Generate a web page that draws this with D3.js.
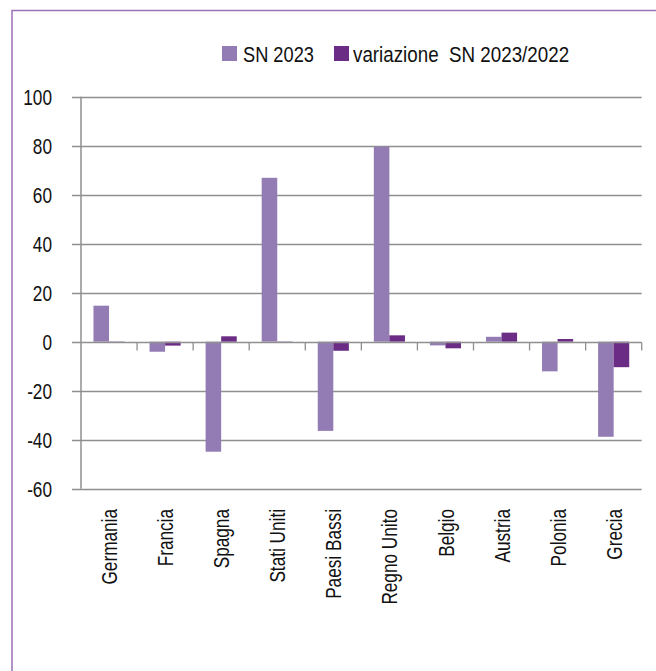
<!DOCTYPE html>
<html>
<head>
<meta charset="utf-8">
<script src="https://cdn.jsdelivr.net/npm/d3@7"></script>
<style>
  html, body { margin: 0; padding: 0; background: #ffffff; }
  svg { display: block; }
  text { font-family: "Liberation Sans", Arial, sans-serif; fill: #111; }
</style>
</head>
<body>
<script>
const categories = ["Germania", "Francia", "Spagna", "Stati Uniti", "Paesi Bassi", "Regno Unito", "Belgio", "Austria", "Polonia", "Grecia"];
const seriesNames = ["SN 2023", "variazione  SN 2023/2022"];
const sn2023 = [14.7, -4.1, -44.9, 66.9, -36.4, 79.6, -1.5, 2.0, -12.1, -38.8];
const variazione = [-0.3, -1.6, 2.2, -0.3, -3.7, 2.6, -2.7, 3.7, 1.1, -10.4];
const yTicks = [-60, -40, -20, 0, 20, 40, 60, 80, 100];
const colors = ["#937cb4", "#6b2c86"];

(function () {
const W = 656, H = 671;
const FS = 22.5, SX = 0.765;
const svg = d3.select("body").append("svg").attr("width", W).attr("height", H);
svg.append("rect").attr("width", W).attr("height", H).attr("fill", "#fff");

// frame
svg.append("rect").attr("x", 12).attr("y", 10.5).attr("width", 800).attr("height", 800)
  .attr("fill", "none").attr("stroke", "#9a72b6").attr("stroke-width", 1.5);

const pL = 81, pR = 641.7, pT = 96.7, pB = 488.7;
const y = d3.scaleLinear().domain([-60, 100]).range([pB, pT]);
const x0 = d3.scaleBand().domain(categories).range([pL, pR]).paddingInner(0.445).paddingOuter(0.2225);
const x1 = d3.scaleBand().domain([0, 1]).range([0, x0.bandwidth()]);
const step = x0.step();

const gridColor = "#8f8f8f";
svg.append("g").selectAll("line").data(yTicks.filter(t => t !== 0)).join("line")
  .attr("x1", pL - 9).attr("x2", pR)
  .attr("y1", d => Math.round(y(d)) + 0.5).attr("y2", d => Math.round(y(d)) + 0.5)
  .attr("stroke", gridColor).attr("stroke-width", 1.3);

svg.append("g").selectAll("text").data(yTicks).join("text")
  .attr("transform", d => `translate(52,${y(d)}) scale(${SX},1)`)
  .attr("dy", "0.36em").attr("text-anchor", "end").attr("font-size", FS).text(d => d);

const data = categories.map((c, i) => ({ c, vals: [sn2023[i], variazione[i]] }));
const groups = svg.append("g").selectAll("g").data(data).join("g")
  .attr("transform", d => `translate(${x0(d.c)},0)`);
groups.selectAll("rect").data(d => d.vals.map((v, k) => ({ v, k }))).join("rect")
  .attr("x", d => x1(d.k)).attr("width", x1.bandwidth())
  .attr("y", d => y(Math.max(0, d.v)))
  .attr("height", d => Math.max(1, Math.abs(y(d.v) - y(0))))
  .attr("fill", d => colors[d.k]);

svg.append("line").attr("x1", pL).attr("x2", pL).attr("y1", pT).attr("y2", pB)
  .attr("stroke", gridColor).attr("stroke-width", 1.5);

const z = Math.round(y(0)) + 0.5;
svg.append("line").attr("x1", pL - 9).attr("x2", pR).attr("y1", z).attr("y2", z)
  .attr("stroke", gridColor).attr("stroke-width", 1.3);
svg.append("g").selectAll("line").data(d3.range(1, categories.length + 1)).join("line")
  .attr("x1", k => pL + k * step).attr("x2", k => pL + k * step)
  .attr("y1", z).attr("y2", z + 8)
  .attr("stroke", gridColor).attr("stroke-width", 1.3);

svg.append("g").selectAll("text").data(categories).join("text")
  .attr("transform", d => `translate(${x0(d) + x0.bandwidth() / 2},509) rotate(-90) scale(${SX},1)`)
  .attr("dy", "0.36em").attr("text-anchor", "end").attr("font-size", FS).text(d => d);

const legend = [{ x: 222, tx: 243, s: 0.81 }, { x: 334, tx: 353, s: 0.835 }];
const lg = svg.append("g").selectAll("g").data(seriesNames).join("g")
  .attr("transform", (d, i) => `translate(${legend[i].x},46)`);
lg.append("rect").attr("width", 15).attr("height", 15).attr("fill", (d, i) => colors[i]);
lg.append("text")
  .attr("transform", (d, i) => `translate(${legend[i].tx - legend[i].x},15.5) scale(${legend[i].s},1)`)
  .attr("font-size", FS).style("white-space", "pre").text(d => d);
})();
</script>
</body>
</html>
